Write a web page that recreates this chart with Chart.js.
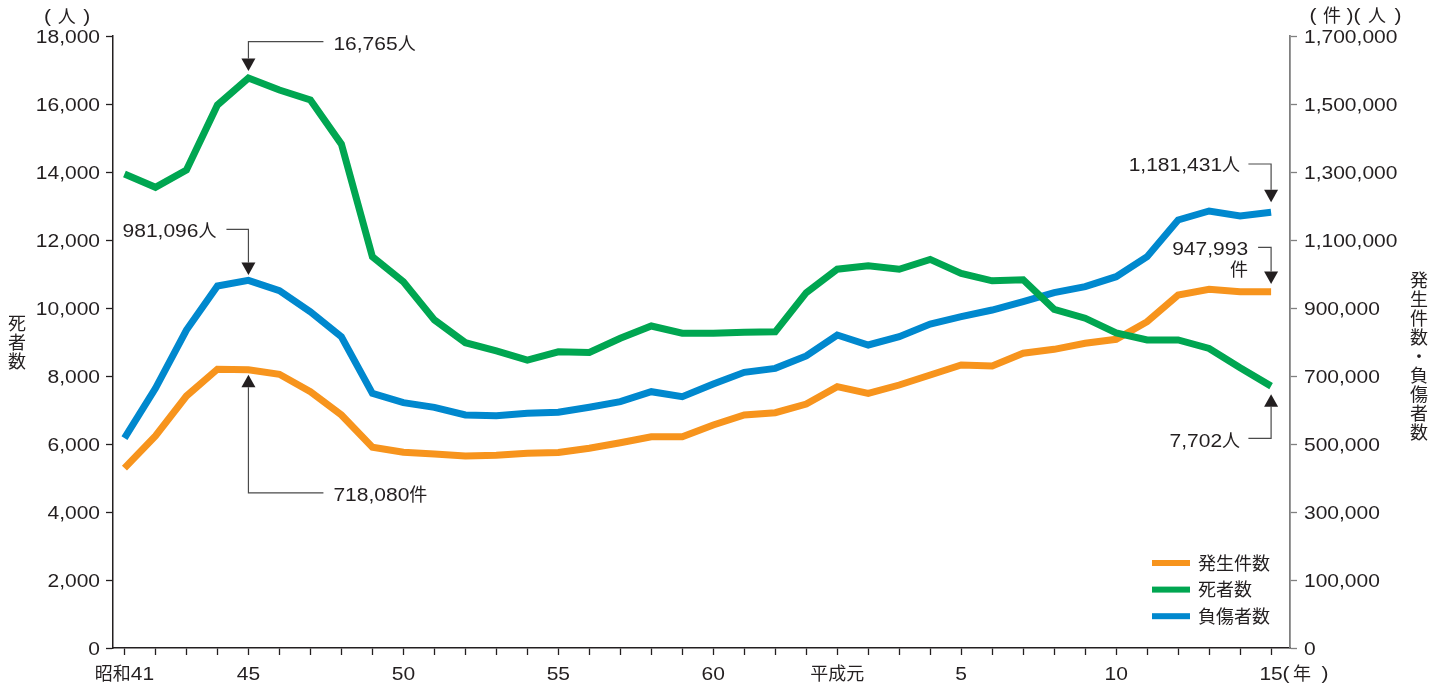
<!DOCTYPE html>
<html lang="ja">
<head>
<meta charset="utf-8">
<title>交通事故の発生件数・死者数・負傷者数の推移</title>
<script src="https://cdn.jsdelivr.net/npm/chart.js@4.4.1/dist/chart.umd.min.js"></script>
<style>
  html, body { margin: 0; padding: 0; background: #fff; }
  #wrap { width: 1444px; height: 690px; }
  canvas { display: block; }
</style>
</head>
<body>
<div id="wrap"><canvas id="c" width="1444" height="690"></canvas></div>
<script>
// 年次（昭和41年〜平成15年）
const years = [
  '昭和41','42','43','44','45','46','47','48','49','50',
  '51','52','53','54','55','56','57','58','59','60',
  '61','62','63','平成元','2','3','4','5','6','7',
  '8','9','10','11','12','13','14','15'
];

// 目盛りを表示する年
const shownYearLabels = ['昭和41','45','50','55','60','平成元','5','10','15'];

// 発生件数（件）
const accidents = [
  429000, 523500, 641200, 720000, 718080, 705000, 653800, 585300, 490300, 475600,
  470600, 464700, 466700, 472600, 475000, 487400, 503800, 521500, 521500, 555900,
  585300, 592100, 617600, 668600, 649000, 673500, 702900, 732400, 729400, 767000,
  778400, 796100, 807900, 859800, 938200, 955000, 948000, 947993
];

// 死者数（人）
const deaths = [
  13940, 13550, 14060, 15970, 16765, 16410, 16120, 14820, 11510, 10770,
  9650, 8980, 8740, 8470, 8710, 8690, 9110, 9470, 9260, 9260,
  9290, 9300, 10450, 11140, 11240, 11140, 11430, 11020, 10800, 10830,
  9960, 9700, 9270, 9060, 9060, 8810, 8240, 7702
];

// 負傷者数（人）
const injuries = [
  517000, 663800, 835000, 964700, 981096, 950900, 889000, 815600, 649000, 621500,
  607900, 585300, 583300, 590200, 593200, 607900, 624400, 653800, 639100, 676500,
  710800, 722500, 758800, 820600, 791200, 815600, 852900, 874400, 894100, 919000,
  945100, 962700, 992100, 1050900, 1158800, 1185300, 1170600, 1181431
];

// 左軸（死者数）の目盛り
const leftTickValues = [0, 2000, 4000, 6000, 8000, 10000, 12000, 14000, 16000, 18000];
const leftTickLabels = ['0','2,000','4,000','6,000','8,000','10,000','12,000','14,000','16,000','18,000'];

// 右軸（発生件数・負傷者数）の目盛り：最下端は省略して 0 と表記
const rightTickValues = [-100000, 100000, 300000, 500000, 700000, 900000, 1100000, 1300000, 1500000, 1700000];
const rightTickLabels = ['0','100,000','300,000','500,000','700,000','900,000','1,100,000','1,300,000','1,500,000','1,700,000'];

const ORANGE = '#F7941D';
const GREEN  = '#00A651';
const BLUE   = '#0088CE';
const INK    = '#231F20';
const GREY   = '#808080';
const LEAD   = '#4a4a4a';

const LATIN = '17.5px "Liberation Sans", Arial, sans-serif';
const CJK   = '18px "Noto Sans CJK JP", "Noto Sans CJK SC", sans-serif';
const SX = 1.2; // 欧文・数字は横長に組む

function splitRuns(str) {
  const out = [];
  for (const ch of str) {
    const cjk = ch.charCodeAt(0) > 0x2000;
    if (out.length && out[out.length - 1].cjk === cjk) out[out.length - 1].t += ch;
    else out.push({ t: ch, cjk });
  }
  return out;
}

function runWidth(ctx, r) {
  ctx.font = r.cjk ? CJK : LATIN;
  return ctx.measureText(r.t).width * (r.cjk ? 1 : SX);
}

function drawText(ctx, str, x, yc, align) {
  const rs = splitRuns(str);
  const ws = rs.map(r => runWidth(ctx, r));
  const total = ws.reduce((a, b) => a + b, 0);
  let cx = align === 'right' ? x - total : align === 'center' ? x - total / 2 : x;
  ctx.textAlign = 'left';
  ctx.textBaseline = 'alphabetic';
  ctx.fillStyle = INK;
  rs.forEach((r, k) => {
    ctx.save();
    ctx.font = r.cjk ? CJK : LATIN;
    ctx.translate(cx, yc + 6.5);
    if (!r.cjk) ctx.scale(SX, 1);
    ctx.fillText(r.t, 0, 0);
    ctx.restore();
    cx += ws[k];
  });
}

function drawChar(ctx, ch, x, yc) {
  drawText(ctx, ch, x, yc, 'center');
}

// 値を示す引出線（矢印）
const callouts = [
  { series: '死者数',   idx: 4,  side: 'above', gap: 7,   elbow: -36.3, hx: 75,    tx: 85,  align: 'left',  lines: ['16,765人'],       tdy: 1.5 },
  { series: '負傷者数', idx: 4,  side: 'above', gap: 5.4, elbow: -51,   hx: -22,   tx: -32, align: 'right', lines: ['981,096人'],      tdy: 1.4 },
  { series: '発生件数', idx: 4,  side: 'below', gap: 5,   elbow: 123,   hx: 75,    tx: 85,  align: 'left',  lines: ['718,080件'],      tdy: 2 },
  { series: '負傷者数', idx: 37, side: 'above', gap: 10,  elbow: -48.3, hx: -22.7, tx: -31, align: 'right', lines: ['1,181,431人'],    tdy: 0 },
  { series: '発生件数', idx: 37, side: 'above', gap: 7.7, elbow: -44.4, hx: -13,   tx: -23, align: 'right', lines: ['947,993', '件'], tdy: 1 },
  { series: '死者数',   idx: 37, side: 'below', gap: 8,   elbow: 52.2,  hx: -22.7, tx: -31, align: 'right', lines: ['7,702人'],        tdy: 1.7 }
];

const legendOrder = ['発生件数', '死者数', '負傷者数'];

const textPlugin = {
  id: 'textLayer',
  afterDraw(chart) {
    const ctx = chart.ctx;
    const xs = chart.scales.x, yl = chart.scales.y, yr = chart.scales.y2;

    // 左軸目盛りラベル
    leftTickValues.forEach((v, k) => drawText(ctx, leftTickLabels[k], 100, yl.getPixelForValue(v) + 0.7, 'right'));
    // 右軸目盛りラベル
    rightTickValues.forEach((v, k) => drawText(ctx, rightTickLabels[k], 1304, yr.getPixelForValue(v) + 0.7, 'left'));

    // 横軸ラベル
    years.forEach((lab, i) => {
      if (!shownYearLabels.includes(lab)) return;
      const x = xs.getPixelForValue(i);
      drawText(ctx, lab, x, 673, 'center');
      if (i === years.length - 1) {
        drawChar(ctx, '(', x + 15, 672);
        drawChar(ctx, '年', x + 31, 673);
        drawChar(ctx, ')', x + 54, 672);
      }
    });

    // 単位
    drawChar(ctx, '(', 47.5, 15);
    drawChar(ctx, '人', 66.7, 16);
    drawChar(ctx, ')', 86.7, 15);
    drawChar(ctx, '(', 1313, 14);
    drawChar(ctx, '件', 1332, 15);
    drawChar(ctx, ')', 1350, 14);
    drawChar(ctx, '(', 1357, 14);
    drawChar(ctx, '人', 1377, 15);
    drawChar(ctx, ')', 1398, 14);

    // 軸タイトル（縦書き）
    ['死', '者', '数'].forEach((ch, k) => drawChar(ctx, ch, 17, 323 + k * 19));
    Array.from('発生件数・負傷者数').forEach((ch, k) => drawChar(ctx, ch, 1419, 280.5 + k * 19));

    // 凡例
    legendOrder.forEach((name, k) => {
      const ds = chart.data.datasets.find(d => d.label === name);
      const y = 563 + k * 26.6;
      ctx.fillStyle = ds.borderColor;
      ctx.fillRect(1152, y - 3, 38, 6);
      drawText(ctx, name, 1198, y, 'left');
    });

    // 引出線
    callouts.forEach(c => {
      const di = chart.data.datasets.findIndex(d => d.label === c.series);
      const ds = chart.data.datasets[di];
      const scale = chart.scales[ds.yAxisID];
      const px = xs.getPixelForValue(c.idx);
      const py = scale.getPixelForValue(ds.data[c.idx].y);
      const s = c.side === 'above' ? -1 : 1;
      const tip = py + s * c.gap;
      const base = tip + s * 12.5;
      const ey = py + c.elbow;

      ctx.save();
      ctx.strokeStyle = LEAD;
      ctx.lineWidth = 1.2;
      ctx.beginPath();
      ctx.moveTo(px, base);
      ctx.lineTo(px, ey);
      ctx.lineTo(px + c.hx, ey);
      ctx.stroke();
      ctx.fillStyle = INK;
      ctx.beginPath();
      ctx.moveTo(px, tip);
      ctx.lineTo(px - 7, base);
      ctx.lineTo(px + 7, base);
      ctx.closePath();
      ctx.fill();
      ctx.restore();

      c.lines.forEach((t, k) => drawText(ctx, t, px + c.tx, ey + c.tdy + k * 21.7, c.align));
    });
  }
};

const toPoints = arr => arr.map((v, i) => ({ x: i, y: v }));

const tickGrid = color => ({
  display: true,
  drawOnChartArea: false,
  drawTicks: true,
  tickLength: 7,
  tickColor: color,
  tickWidth: 1.3,
  color: color
});

new Chart(document.getElementById('c').getContext('2d'), {
  type: 'line',
  data: {
    datasets: [
      { label: '死者数',   data: toPoints(deaths),    yAxisID: 'y',  borderColor: GREEN,  backgroundColor: GREEN,  order: 0 },
      { label: '負傷者数', data: toPoints(injuries),  yAxisID: 'y2', borderColor: BLUE,   backgroundColor: BLUE,   order: 1 },
      { label: '発生件数', data: toPoints(accidents), yAxisID: 'y2', borderColor: ORANGE, backgroundColor: ORANGE, order: 2 }
    ]
  },
  options: {
    responsive: false,
    animation: false,
    events: [],
    layout: { padding: { top: 36, left: 0, right: 0, bottom: 0 } },
    elements: {
      line: { borderWidth: 7, tension: 0, borderJoinStyle: 'miter', borderCapStyle: 'butt', fill: false },
      point: { radius: 0, hoverRadius: 0 }
    },
    plugins: { legend: { display: false }, tooltip: { enabled: false } },
    scales: {
      x: {
        type: 'linear',
        position: 'bottom',
        min: -0.37,
        max: 37.61,
        afterBuildTicks(s) { s.ticks = years.map((_, i) => ({ value: i })); },
        afterFit(s) { s.height = 42; },
        ticks: { display: false },
        grid: tickGrid(INK),
        border: { display: true, color: INK, width: 1.5 }
      },
      y: {
        position: 'left',
        min: 0,
        max: 18000,
        afterBuildTicks(s) { s.ticks = leftTickValues.map(v => ({ value: v })); },
        afterFit(s) { s.width = 113; },
        ticks: { display: false },
        grid: tickGrid(INK),
        border: { display: true, color: INK, width: 1.5 }
      },
      y2: {
        position: 'right',
        min: -100000,
        max: 1700000,
        afterBuildTicks(s) { s.ticks = rightTickValues.map(v => ({ value: v })); },
        afterFit(s) { s.width = 154; },
        ticks: { display: false },
        grid: tickGrid(GREY),
        border: { display: true, color: GREY, width: 1.8 }
      }
    }
  },
  plugins: [textPlugin]
});
</script>
</body>
</html>
